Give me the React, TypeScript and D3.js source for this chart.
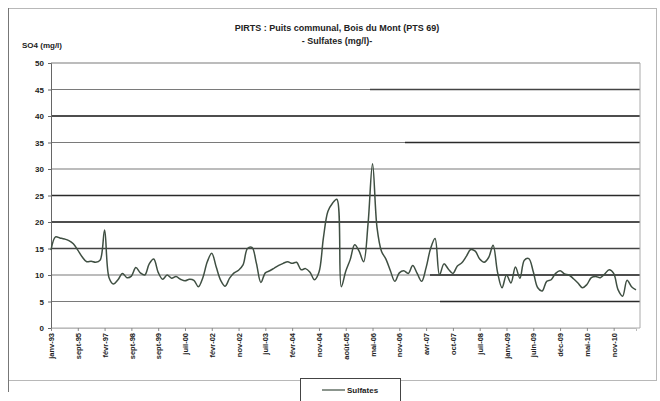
import React, { useEffect, useRef } from "react";
import * as d3 from "d3";

const titleLines = ["PIRTS : Puits communal, Bois du Mont (PTS 69)", "- Sulfates (mg/l)-"];
const yTitle = "SO4 (mg/l)";
const seriesName = "Sulfates";

// one value per sample, labels shown every 6th sample
const sulfates = [
  14.7, 17.2, 17, 16.8, 16.5, 15.9, 14.7, 13.4, 12.5, 12.6, 12.4, 12.8, 18.5, 9.5, 8.3, 9.1,
  10.3, 9.5, 9.8, 11.4, 10.4, 10, 12.1, 13, 10.5, 9.2, 10, 9.4, 9.7, 9.2, 8.9, 9.2,
  9, 7.8, 9.5, 12.5, 14.1, 11.5, 9, 7.9, 9.4, 10.4, 10.9, 11.9, 15, 15.2, 12.2, 8.6,
  10.4, 10.8, 11.3, 11.8, 12.2, 12.5, 12.2, 12.4, 11, 11.2, 10.5, 9.1, 10.5, 17, 22, 23.5,
  24.3, 7.8, 10.7, 12.9, 15.7, 14.5, 12.5, 19.7, 31, 19, 14.5, 13, 10.8, 8.8, 10.4, 10.8,
  10.3, 11.8, 10.3, 8.8, 11.4, 15, 16.9, 10, 12.1, 11.1, 10.3, 11.7, 12.3, 13.5, 14.8, 14.5,
  13, 12.4, 13.3, 15.6, 10.5, 7.6, 10, 8.5, 11.5, 9.4, 12.8, 13.1, 10.6, 7.6, 7, 8.8,
  9.1, 10.3, 10.8, 10.2, 10, 9.3, 8.5, 7.6, 8.2, 9.5, 9.7, 9.5, 10.2, 11, 10.3, 7.2,
  6, 9, 7.8, 7.2,
];

const dateLabels = [
  "janv-93", "sept-95", "févr-97", "sept-98", "sept-99", "juil-00", "févr-02", "nov-02",
  "juil-03", "févr-04", "nov-04", "août-05", "mai-06", "nov-06", "avr-07", "oct-07",
  "juil-08", "janv-09", "juin-09", "déc-09", "mai-10", "nov-10",
];
const labelEvery = 6;

const yTicks = [0, 5, 10, 15, 20, 25, 30, 35, 40, 45, 50];

const App: React.FC = () => {
  const svgRef = useRef<SVGSVGElement | null>(null);

  useEffect(() => {
    if (!svgRef.current) return;
    const svg = d3.select(svgRef.current);
    svg.selectAll("*").remove();

    const font = "'Liberation Sans', Arial, sans-serif";
    const left = 51, right = 640, top = 63, bottom = 328;

    const x = d3.scaleLinear().domain([0, 131]).range([left, 636]);
    const y = d3.scaleLinear().domain([0, 50]).range([bottom, top]);

    // where each gridline turns dark (scanned print: some lines heavier on the right)
    const darkFrom: Record<number, number> = {
      5: 440, 10: 430, 15: left, 20: left, 25: left, 35: 405, 40: left, 45: 370,
    };
    const gv = yTicks.filter((t) => t > 0);

    // outer frame
    svg.append("rect")
      .attr("x", 8.5).attr("y", 8.5).attr("width", 648).attr("height", 372)
      .attr("fill", "none").attr("stroke", "#b8b8b8");
    svg.append("line")
      .attr("x1", 8.5).attr("x2", 8.5).attr("y1", 8).attr("y2", 392)
      .attr("stroke", "#777");

    // title
    svg.append("g").selectAll("text").data(titleLines).enter().append("text")
      .attr("x", 337).attr("y", (_d, i) => 31 + i * 13)
      .attr("text-anchor", "middle")
      .attr("font-family", font).attr("font-size", 9).attr("font-weight", "bold")
      .attr("fill", "#222")
      .text((d) => d);

    svg.append("text")
      .attr("x", 22).attr("y", 48)
      .attr("font-family", font).attr("font-size", 8).attr("font-weight", "bold")
      .attr("fill", "#222")
      .text(yTitle);

    // light gridlines
    svg.append("g").selectAll("line").data(gv).enter().append("line")
      .attr("x1", left).attr("x2", right)
      .attr("y1", (d) => y(d)).attr("y2", (d) => y(d))
      .attr("stroke", "#7a7a7a").attr("stroke-width", 1.2);

    // dark parts
    svg.append("g").selectAll("line").data(gv.filter((v) => darkFrom[v] !== undefined)).enter().append("line")
      .attr("x1", (d) => darkFrom[d]).attr("x2", right)
      .attr("y1", (d) => y(d)).attr("y2", (d) => y(d))
      .attr("stroke", (d) => (d === 15 || d === 45 ? "#444" : "#2a2a2a"))
      .attr("stroke-width", (d) => (d === 15 || d === 45 ? 1.4 : 1.7));

    // plot area border (right + bottom)
    svg.append("path")
      .attr("d", `M${left},${bottom}H${right}V${top}`)
      .attr("fill", "none").attr("stroke", "#aaa");

    // y axis
    const yAxis = d3.axisLeft(y).tickValues(yTicks).tickSize(3).tickPadding(4);
    const yg = svg.append("g").attr("transform", `translate(${left},0)`).call(yAxis);
    yg.select(".domain").attr("stroke", "#666");
    yg.selectAll(".tick line").attr("stroke", "#666");
    yg.selectAll(".tick text")
      .attr("font-family", font).attr("font-size", 8).attr("font-weight", "bold").attr("fill", "#222");

    // x axis
    const tickIdx = dateLabels.map((_d, i) => i * labelEvery);
    const xAxis = d3.axisBottom(x).tickValues(tickIdx)
      .tickFormat((_d, i) => dateLabels[i]).tickSize(3).tickPadding(3);
    const xg = svg.append("g").attr("transform", `translate(0,${bottom})`).call(xAxis);
    xg.select(".domain").attr("stroke", "#bbb");
    xg.selectAll(".tick line").attr("stroke", "#888");
    xg.selectAll(".tick text")
      .attr("font-family", font).attr("font-size", 7.5).attr("font-weight", "bold").attr("fill", "#222")
      .attr("text-anchor", "end")
      .attr("transform", "rotate(-90)")
      .attr("x", -5).attr("y", 0).attr("dy", "0.35em");

    // series (smoothed, as in the original spreadsheet chart)
    const line = d3.line<number>()
      .x((_d, i) => x(i))
      .y((d) => y(d))
      .curve(d3.curveCatmullRom.alpha(0.5));
    svg.append("path")
      .datum(sulfates)
      .attr("d", line)
      .attr("fill", "none")
      .attr("stroke", "#3f4f42")
      .attr("stroke-width", 1.5)
      .attr("stroke-linejoin", "round");

    // legend
    const lg = svg.append("g");
    lg.append("rect")
      .attr("x", 300.5).attr("y", 378.5).attr("width", 100).attr("height", 30)
      .attr("fill", "#fff").attr("stroke", "#444");
    lg.append("line")
      .attr("x1", 322).attr("x2", 345).attr("y1", 390).attr("y2", 390)
      .attr("stroke", "#3f4f42").attr("stroke-width", 1.2);
    lg.append("text")
      .attr("x", 347).attr("y", 393)
      .attr("font-family", font).attr("font-size", 8).attr("font-weight", "bold").attr("fill", "#222")
      .text(seriesName);
  }, []);

  return (
    <svg
      ref={svgRef}
      width={660}
      height={401}
      style={{ position: "absolute", left: 0, top: 0, background: "#fff" }}
    ></svg>
  );
};

export default App;
